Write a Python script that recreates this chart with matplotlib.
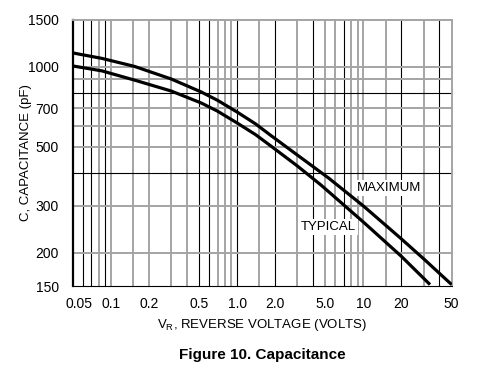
#
# python3 plot.py
#
import matplotlib
matplotlib.use("Agg")
import matplotlib.pyplot as plt
import matplotlib.transforms as mtransforms

plt.rcParams['font.family'] = ['Liberation Sans', 'DejaVu Sans']

# reverse voltage (V) / capacitance (pF)
vr_max = [0.05, 0.085, 0.154, 0.30, 0.52, 0.7, 1.0, 1.4, 1.85, 3.0, 5.3, 10, 19.5, 30, 50]
c_max = [1127, 1075, 1003, 900, 804, 748, 676, 610, 552, 466, 382, 300, 228, 190, 152]
vr_typ = [0.05, 0.085, 0.154, 0.30, 0.52, 0.7, 1.0, 1.4, 1.85, 3.0, 4.6, 10, 20, 33.7]
c_typ = [1007, 965, 891, 811, 731, 681, 615, 556, 504, 424, 360, 261, 194, 152]

xticks = [0.05, 0.1, 0.2, 0.5, 1.0, 2.0, 5.0, 10, 20, 50]
xtick_labels = ["0.05", "0.1", "0.2", "0.5", "1.0", "2.0", "5.0", "10", "20", "50"]
yticks = [150, 200, 300, 500, 700, 1000, 1500]

# grid of the scanned chart: some lines come out black, others grey
vgrid_black = [0.06, 0.07, 0.09, 0.5, 0.6, 1.0, 2.0, 4.0, 7, 20, 40]
vgrid_grey = [0.08, 0.1, 0.15, 0.2, 0.3, 0.4, 0.7, 0.8, 0.9, 1.5, 3, 5, 6, 8, 9, 10, 15, 30]
hgrid_black = [400, 800]
hgrid_grey = [200, 300, 500, 600, 700, 900, 1000]

fig = plt.figure(figsize=(4.92, 3.75), dpi=100)
ax = fig.add_axes([0.148, 0.237, 0.770, 0.710])
ax.set_xscale('log')
ax.set_yscale('log')
ax.set_xlim(0.05, 50)
ax.set_ylim(150, 1500)

grey = '#a4a4a4'
for v in vgrid_grey:
    ax.axvline(v, color=grey, lw=1.4, zorder=1)
for v in vgrid_black:
    ax.axvline(v, color='black', lw=0.8, zorder=1)
for c in hgrid_grey:
    ax.axhline(c, color=grey, lw=1.4, zorder=1)
for c in hgrid_black:
    ax.axhline(c, color='black', lw=0.8, zorder=1)

ax.plot(vr_max, c_max, color='black', lw=2.3, zorder=3, solid_capstyle='butt')
ax.plot(vr_typ, c_typ, color='black', lw=2.3, zorder=3, solid_capstyle='butt')

box = dict(facecolor='white', edgecolor='none', pad=1.5)
ax.text(16.0, 350, "MAXIMUM", fontsize=9.5, ha='center', va='center', bbox=box, zorder=4)
ax.text(5.3, 250, "TYPICAL", fontsize=9.5, ha='center', va='center', bbox=box, zorder=4)

ax.set_xticks(xticks)
ax.set_xticklabels(xtick_labels)
ax.set_yticks(yticks)
ax.set_yticklabels([str(t) for t in yticks])
ax.minorticks_off()
ax.tick_params(axis='x', length=0, pad=8, labelsize=10)
ax.tick_params(axis='y', length=0, pad=10, labelsize=10)
# first label sits a bit right of the corner, as on the datasheet
lab0 = ax.get_xticklabels()[0]
lab0.set_transform(lab0.get_transform() + mtransforms.ScaledTranslation(6 / 100, 0, fig.dpi_scale_trans))

ax.spines['left'].set_linewidth(1.6)
ax.spines['bottom'].set_linewidth(0.8)
ax.spines['top'].set_color(grey)
ax.spines['right'].set_color(grey)
ax.spines['top'].set_linewidth(1.4)
ax.spines['right'].set_linewidth(1.4)

ax.set_xlabel("V$_\\mathregular{R}$, REVERSE VOLTAGE (VOLTS)", fontsize=9.5)
ax.set_ylabel("C, CAPACITANCE (pF)", fontsize=9.5)
ax.xaxis.label.set_va('center')
ax.yaxis.label.set_va('center')
ax.xaxis.set_label_coords(0.5, -0.147)
ax.yaxis.set_label_coords(-0.124, 0.5)

fig.text(262 / 492, 1 - 355 / 375, "Figure 10. Capacitance", ha='center', va='center',
         fontsize=11, fontweight='bold')

plt.savefig("out.png", dpi=100)
